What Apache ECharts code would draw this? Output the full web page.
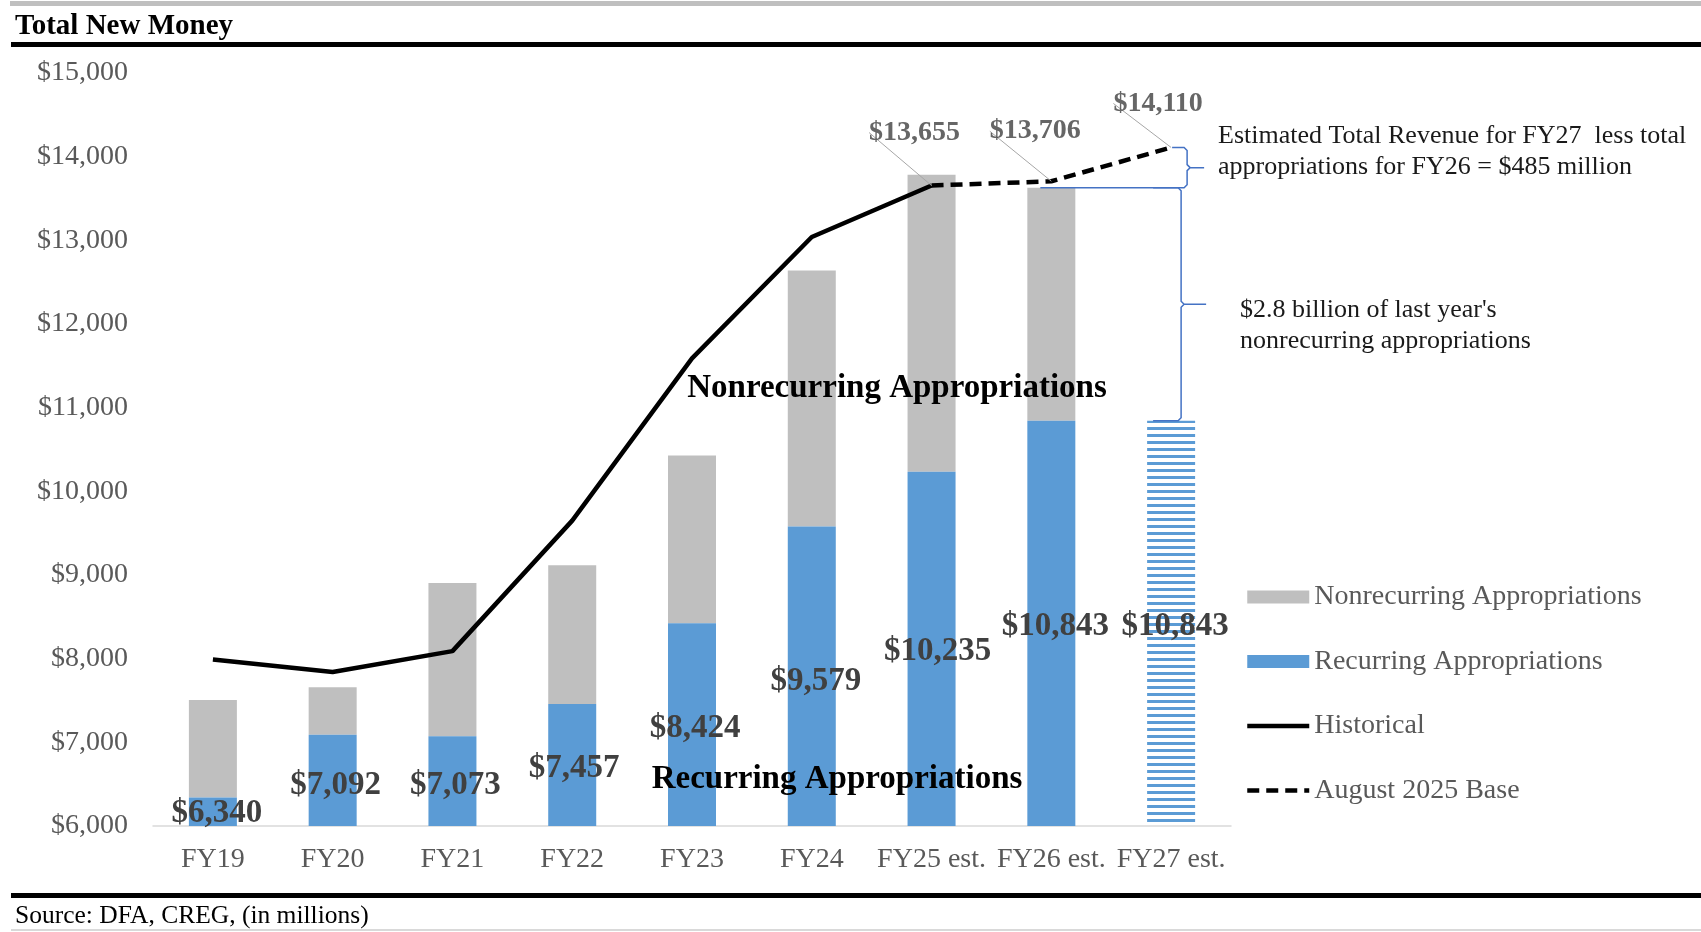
<!DOCTYPE html>
<html>
<head>
<meta charset="utf-8">
<title>Total New Money</title>
<script src="https://cdn.jsdelivr.net/npm/echarts@6/dist/echarts.min.js"></script>
<style>
  html, body { margin: 0; padding: 0; background: #fff; }
  #chart { width: 1701px; height: 932px; }
</style>
</head>
<body>
<div id="chart"></div>
<script>
// data, in millions
var categories = ["FY19", "FY20", "FY21", "FY22", "FY23", "FY24", "FY25 est.", "FY26 est.", "FY27 est."];
var recurring = [6340, 7092, 7073, 7457, 8424, 9579, 10235, 10843, 10843];
var nonrecurring = [1165, 565, 1830, 1660, 2005, 3060, 3550, 2785, null];
var historical = [7990, 7840, 8090, 9650, 11590, 13040, 13655, null, null];
var augustBase = [null, null, null, null, null, null, 13655, 13706, 14110];
var yMin = 6000, yMax = 15000, yStep = 1000;

// label nudges (Excel labels were dragged by hand)
var barLabelShift = [[4, -6], [3, 29], [3, 28], [2, 43], [3, 84], [4, 133], [6, 158], [4, 184], [4, 184]];
var topLabelShift = { 6: [-17, -39], 7: [-16, -36], 8: [-13, -30] };

var serif = "Liberation Serif";
var grey = "#bfbfbf";
var blue = "#5b9bd5";

function money(v) {
  return "$" + String(v).replace(/\B(?=(\d{3})+(?!\d))/g, ",");
}

// striped fill for the FY27 bar
var stripe = document.createElement("canvas");
stripe.width = 8;
stripe.height = 7;
var sctx = stripe.getContext("2d");
sctx.fillStyle = blue;
sctx.fillRect(0, 0, 8, 3);

var recurringData = recurring.map(function (v, i) {
  if (i === categories.length - 1) {
    return { value: v, itemStyle: { color: { image: stripe, repeat: "repeat" } } };
  }
  return v;
});

var myChart = echarts.init(document.getElementById("chart"));

myChart.setOption({
  animation: false,
  textStyle: { fontFamily: serif },
  grid: { left: 153, right: 470, top: 73, bottom: 106 },
  legend: {
    orient: "vertical",
    left: 1240,
    top: 577,
    itemWidth: 62,
    itemHeight: 13,
    itemGap: 34.5,
    textStyle: { color: "#595959", fontSize: 28, fontFamily: serif, lineHeight: 30 },
    data: [
      { name: "Nonrecurring Appropriations", icon: "rect" },
      { name: "Recurring Appropriations", icon: "rect" },
      { name: "Historical", itemStyle: { opacity: 0 }, lineStyle: { width: 4.5 } },
      { name: "August 2025 Base", itemStyle: { opacity: 0 }, lineStyle: { width: 4.5 } }
    ]
  },
  xAxis: {
    type: "category",
    data: categories,
    axisLine: { lineStyle: { color: "#d9d9d9", width: 1.5 } },
    axisTick: { show: false },
    axisLabel: { color: "#595959", fontSize: 28, fontFamily: serif, margin: 20, interval: 0 }
  },
  yAxis: {
    type: "value",
    min: yMin,
    max: yMax,
    interval: yStep,
    axisLine: { show: false },
    axisTick: { show: false },
    splitLine: { show: false },
    axisLabel: {
      color: "#595959",
      fontSize: 28,
      fontFamily: serif,
      margin: 25,
      formatter: function (v) { return money(v); }
    }
  },
  series: [
    {
      name: "Recurring Appropriations",
      type: "bar",
      stack: "total",
      barWidth: 48,
      data: recurringData,
      itemStyle: { color: blue },
      label: {
        show: true,
        position: "insideTop",
        color: "#404040",
        fontWeight: "bold",
        fontSize: 33,
        fontFamily: serif,
        formatter: function (p) { return money(p.value); }
      },
      labelLayout: function (p) {
        var s = barLabelShift[p.dataIndex];
        return { dx: s[0], dy: s[1] };
      },
      z: 2
    },
    {
      name: "Nonrecurring Appropriations",
      type: "bar",
      stack: "total",
      barWidth: 48,
      data: nonrecurring,
      itemStyle: { color: grey },
      z: 1
    },
    {
      name: "Historical",
      type: "line",
      data: historical,
      symbol: "none",
      itemStyle: { color: "#000" },
      lineStyle: { color: "#000", width: 4.5 },
      z: 3
    },
    {
      name: "August 2025 Base",
      type: "line",
      data: augustBase,
      symbol: "none",
      itemStyle: { color: "#000" },
      lineStyle: { color: "#000", width: 4.5, type: [12, 7] },
      z: 3
    },
    {
      // holds the value labels + leader lines of the base line
      name: "baseLabels",
      type: "scatter",
      data: augustBase,
      symbolSize: 0,
      silent: true,
      label: {
        show: true,
        position: "top",
        distance: 0,
        color: "#404040",
        fontWeight: "bold",
        fontSize: 28,
        fontFamily: serif,
        formatter: function (p) { return money(p.value); }
      },
      labelLine: { show: true, lineStyle: { color: "#a6a6a6", width: 1 } },
      labelLayout: function (p) {
        var s = topLabelShift[p.dataIndex] || [0, 0];
        return { dx: s[0], dy: s[1] };
      },
      z: 4
    }
  ]
});

// annotations: braces follow the data scale
var last = categories.length - 1;
var totalFY26 = recurring[last - 1] + nonrecurring[last - 1];
function px(i, v) { return myChart.convertToPixel({ gridIndex: 0 }, [i, v]); }
var x7 = px(last - 1, totalFY26)[0];
var x8 = px(last, augustBase[last])[0];
var yBase = px(last, augustBase[last])[1];
var yTot = px(last - 1, totalFY26)[1];
var yRec = px(last, recurring[last])[1];

function brace(xTopArm, xBotArm, xv, xTip, yT, yB) {
  var m = (yT + yB) / 2, r = 3;
  return [
    [xTopArm, yT], [xv - r, yT], [xv, yT + r],
    [xv, m - r], [xv + r, m], [xTip, m], [xv + r, m], [xv, m + r],
    [xv, yB - r], [xv - r, yB], [xBotArm, yB]
  ];
}

function txt(x, y, s, size, weight, color, align) {
  return {
    type: "text", x: x, y: y, z: 10,
    style: {
      text: s, fontFamily: serif, fontSize: size, fontWeight: weight,
      fill: color, align: align || "left", verticalAlign: "middle"
    }
  };
}

var braceStyle = { stroke: "#4472c4", lineWidth: 1.5, fill: null };

myChart.setOption({
  graphic: [
    { type: "rect", shape: { x: 10, y: 1, width: 1691, height: 5 }, style: { fill: grey } },
    txt(15, 27, "Total New Money", 29, "bold", "#000"),
    { type: "rect", shape: { x: 11, y: 42, width: 1690, height: 5 }, style: { fill: "#000" } },
    { type: "rect", shape: { x: 11, y: 893, width: 1690, height: 5 }, style: { fill: "#000" } },
    txt(15, 916, "Source: DFA, CREG, (in millions)", 25.5, "normal", "#000"),
    { type: "rect", shape: { x: 11, y: 929, width: 1690, height: 2 }, style: { fill: "#d9d9d9" } },

    txt(897, 388, "Nonrecurring Appropriations", 33, "bold", "#000", "center"),
    txt(837, 779, "Recurring Appropriations", 33, "bold", "#000", "center"),

    { type: "polyline", z: 10, shape: { points: brace(x8 + 1, x8 - 18, x8 + 16, x8 + 33, yBase, yTot) }, style: braceStyle },
    { type: "polyline", z: 10, shape: { points: brace(x7 - 11, x8 - 18, x8 + 10, x8 + 35, yTot, yRec) }, style: braceStyle },

    txt(1218, 136, "Estimated Total Revenue for FY27  less total", 26, "normal", "#1a1a1a"),
    txt(1218, 167, "appropriations for FY26 = $485 million", 26, "normal", "#1a1a1a"),
    txt(1240, 310, "$2.8 billion of last year's", 26, "normal", "#1a1a1a"),
    txt(1240, 341, "nonrecurring appropriations", 26, "normal", "#1a1a1a")
  ]
});
</script>
</body>
</html>
